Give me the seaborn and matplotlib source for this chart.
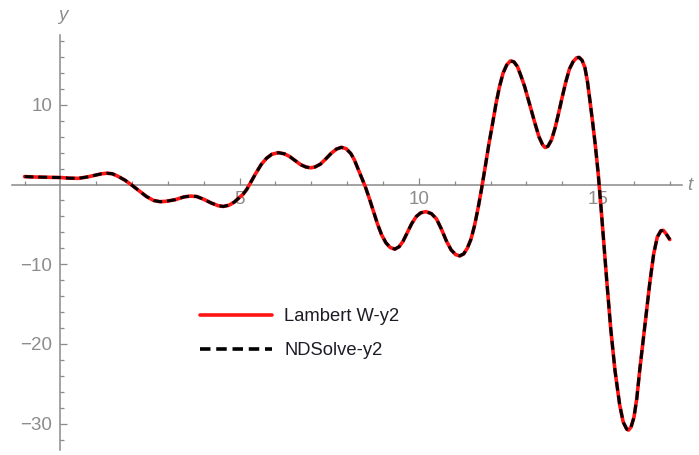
import matplotlib
matplotlib.use("Agg")
import matplotlib.pyplot as plt
from matplotlib.lines import Line2D
import pandas as pd
import seaborn as sns

# Solution samples y2(t): closed form via Lambert W and numerical NDSolve result
t_values = [
    -1.0, -0.75, -0.5, -0.25, 0.0, 0.25, 0.5, 0.75, 1.0, 1.15, 1.3, 1.45, 1.6, 1.8,
    2.0, 2.2, 2.4, 2.6, 2.78, 2.95, 3.2, 3.45, 3.62, 3.8, 4.0, 4.2, 4.4, 4.54, 4.7,
    4.85, 5.0, 5.1, 5.2, 5.3, 5.45, 5.6, 5.75, 5.9, 6.08, 6.25, 6.4, 6.55, 6.7, 6.85,
    6.98, 7.1, 7.25, 7.4, 7.55, 7.7, 7.84, 7.97, 8.1, 8.2, 8.3, 8.4, 8.5, 8.6, 8.73,
    8.85, 8.96, 9.08, 9.2, 9.33, 9.45, 9.56, 9.68, 9.8, 9.93, 10.05, 10.2, 10.35,
    10.49, 10.62, 10.77, 10.9, 11.03, 11.14, 11.25, 11.35, 11.45, 11.55, 11.65, 11.75,
    11.85, 11.95, 12.05, 12.15, 12.25, 12.35, 12.45, 12.55, 12.65, 12.75, 12.85, 12.95,
    13.05, 13.15, 13.25, 13.35, 13.45, 13.52, 13.6, 13.7, 13.8, 13.9, 14.0, 14.1, 14.2,
    14.3, 14.4, 14.47, 14.55, 14.63, 14.7, 14.77, 14.85, 14.92, 15.0, 15.08, 15.16,
    15.24, 15.35, 15.47, 15.6, 15.7, 15.8, 15.85, 15.92, 16.0, 16.08, 16.16, 16.3,
    16.44, 16.55, 16.65, 16.75, 16.82, 16.9, 17.0,
]
lambert_y2 = [
    1.0, 0.95, 0.92, 0.9, 0.88, 0.8, 0.78, 0.95, 1.2, 1.35, 1.42, 1.35, 1.05, 0.55,
    -0.1, -0.8, -1.5, -2.0, -2.15, -2.1, -1.9, -1.55, -1.45, -1.5, -1.85, -2.3, -2.65,
    -2.75, -2.6, -2.2, -1.6, -1.2, -0.6, 0.2, 1.4, 2.5, 3.3, 3.8, 4.0, 3.85, 3.5, 3.0,
    2.5, 2.2, 2.1, 2.2, 2.55, 3.2, 3.9, 4.45, 4.67, 4.5, 3.9, 3.1, 2.0, 0.9, -0.2,
    -1.5, -3.3, -5.0, -6.3, -7.3, -7.9, -8.1, -7.8, -7.1, -6.0, -4.9, -4.0, -3.55,
    -3.4, -3.65, -4.3, -5.5, -7.1, -8.2, -8.8, -8.95, -8.7, -8.0, -6.9, -5.2, -3.0,
    -0.5, 2.2, 5.0, 7.5, 10.1, 12.3, 14.0, 15.0, 15.5, 15.4, 14.8, 13.6, 12.3, 10.7,
    9.1, 7.5, 6.0, 5.0, 4.65, 4.8, 5.6, 7.1, 9.0, 11.0, 12.9, 14.5, 15.4, 15.9, 15.95,
    15.6, 14.7, 13.0, 10.6, 7.7, 5.0, 1.5, -2.8, -7.4, -12.0, -18.0, -23.3, -27.6,
    -29.8, -30.7, -30.8, -30.4, -29.2, -26.8, -23.3, -17.8, -12.4, -8.7, -6.6, -5.8,
    -5.75, -6.2, -6.9,
]
ndsolve_y2 = list(lambert_y2)

series_labels = ["Lambert W-y2", "NDSolve-y2"]

x_major = [5, 10, 15]
x_major_labels = ["5", "10", "15"]
x_minor = [v for v in range(-1, 18) if v not in (0, 5, 10, 15)]
y_major = [-30, -20, -10, 10]
y_major_labels = ["\u221230", "\u221220", "\u221210", "10"]
y_minor = [v for v in range(-32, 19, 2) if v % 10 != 0]

sns.set_theme(style="white")
plt.rcParams["font.family"] = ["Liberation Sans", "DejaVu Sans"]

W, H = 699, 455
fig = plt.figure(figsize=(W / 100, H / 100), dpi=100)
fig.patch.set_facecolor("white")
ax = fig.add_axes([12 / W, 5 / H, 670 / W, 415 / H])
ax.set_facecolor("white")

red = "#ff1414"
dash = (0, (2.9, 1.6))

df = pd.DataFrame({"t": t_values, "lambert": lambert_y2, "ndsolve": ndsolve_y2})
sns.lineplot(data=df, x="t", y="lambert", ax=ax, color=red, linewidth=2.6,
             sort=False, estimator=None, zorder=3)
sns.lineplot(data=df, x="t", y="ndsolve", ax=ax, color="black", linewidth=2.2,
             linestyle=dash, sort=False, estimator=None, zorder=4)

ax.set_xlim(-1.35, 17.34)
ax.set_ylim(-33.3, 18.76)
ax.set_xlabel("")
ax.set_ylabel("")

axis_gray = "#8a8a8a"
label_gray = "#8c8c8c"
for side in ("top", "right"):
    ax.spines[side].set_visible(False)
ax.spines["left"].set_position(("data", 0))
ax.spines["bottom"].set_position(("data", 0))
for side in ("left", "bottom"):
    ax.spines[side].set_color(axis_gray)
    ax.spines[side].set_linewidth(1.1)
    ax.spines[side].set_zorder(2)

ax.set_xticks(x_major)
ax.set_xticklabels(x_major_labels)
ax.set_xticks(x_minor, minor=True)
ax.set_yticks(y_major)
ax.set_yticklabels(y_major_labels)
ax.set_yticks(y_minor, minor=True)
ax.tick_params(which="both", direction="in", color=axis_gray, width=0.9,
               labelcolor=label_gray, labelsize=13.5)
ax.tick_params(which="major", length=4.8)
ax.tick_params(which="minor", length=2.6)
ax.tick_params(axis="x", which="major", pad=5)
ax.tick_params(axis="y", which="major", pad=6)
ax.tick_params(bottom=True, left=True, which="both")
ax.grid(False)

fig.text(63 / W, 1 - 16 / H, "y", style="italic", color=label_gray, fontsize=13.5,
         ha="center", va="center")
fig.text(690 / W, 1 - 186 / H, "t", style="italic", color=label_gray, fontsize=13.5,
         ha="center", va="center")

handles = [
    Line2D([], [], color=red, linewidth=2.6),
    Line2D([], [], color="black", linewidth=2.6, linestyle=dash),
]
ax.legend(handles, series_labels, loc="upper left",
          bbox_to_anchor=(200 / W, 1 - 308 / H), bbox_transform=fig.transFigure,
          frameon=False, borderpad=0, borderaxespad=0, fontsize=13.2,
          handlelength=3.9, handletextpad=0.7, labelspacing=0.95,
          labelcolor="#1c1c24")

fig.savefig("out.png", dpi=100, facecolor="white")
